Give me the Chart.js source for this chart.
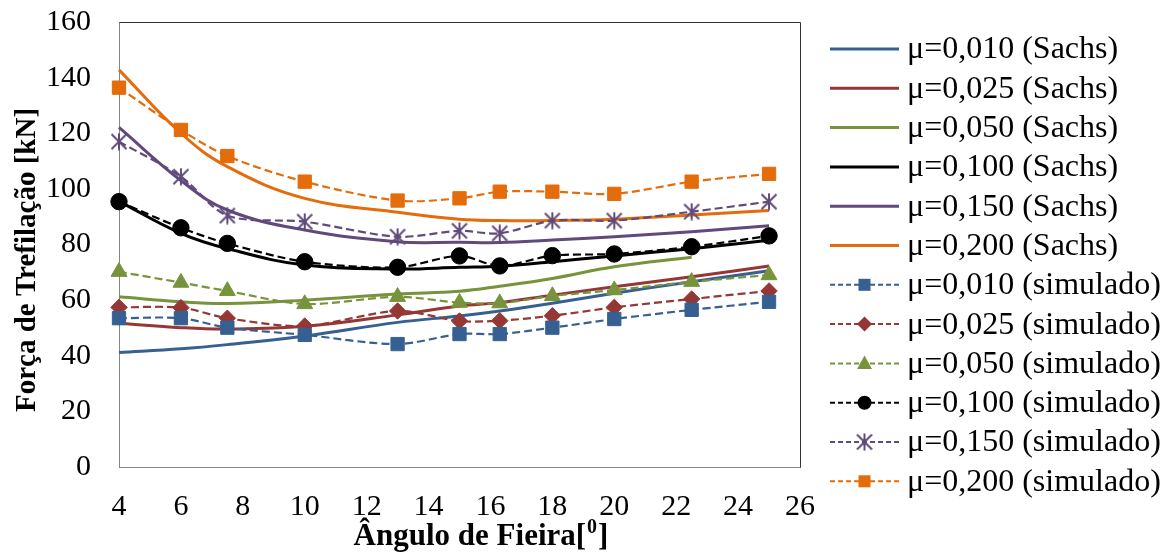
<!DOCTYPE html>
<html>
<head>
<meta charset="utf-8">
<script src="https://cdn.jsdelivr.net/npm/chart.js@4.4.1/dist/chart.umd.min.js"></script>
<style>
  html, body { margin: 0; padding: 0; background: #ffffff; }
  #wrap { width: 1168px; height: 555px; }
</style>
</head>
<body>
<div id="wrap"><canvas id="c" width="1168" height="555"></canvas></div>
<script>
// ---- data ----
const angles = [4, 6, 7.5, 10, 13, 15, 16.3, 18, 20, 22.5, 25];

const sachs010 = [41.2, 42.5, 44.0, 47.1, 52.0, 54.3, 56.1, 58.9, 62.5, 66.6, 70.6];
const sachs025 = [51.7, 50.1, 49.6, 50.6, 54.7, 57.9, 59.1, 61.8, 64.8, 68.4, 72.3];
const sachs050 = [61.2, 59.4, 58.8, 60.0, 62.2, 63.2, 65.0, 67.8, 72.0, 75.4, null];
const sachs100 = [95.5, 84.0, 78.5, 72.6, 71.2, 71.8, 72.2, 73.8, 75.9, 78.5, 81.5];
const sachs150 = [122.1, 103.0, 92.4, 85.2, 81.0, 80.8, 80.7, 81.6, 82.8, 84.6, 86.7];
const sachs200 = [142.8, 120.0, 108.0, 96.6, 91.6, 89.1, 88.6, 88.6, 89.1, 90.6, 92.2];

const sim010 = [53.5, 53.5, 50.1, 47.5, 44.2, 47.8, 47.8, 50.1, 53.2, 56.5, 59.4];
const sim025 = [57.4, 57.3, 53.5, 50.7, 56.1, 52.5, 52.6, 54.4, 57.4, 60.4, 63.3];
const sim050 = [70.2, 66.3, 63.3, 58.6, 61.2, 59.1, 58.9, 61.5, 63.6, 66.6, 69.0];
const sim100 = [95.4, 86.0, 80.4, 73.8, 71.8, 75.9, 72.3, 76.0, 76.6, 79.2, 83.1];
const sim150 = [117.0, 104.4, 90.4, 88.2, 82.8, 84.9, 84.0, 88.6, 88.6, 91.8, 95.4];
const sim200 = [136.4, 121.2, 111.8, 102.6, 95.8, 96.6, 99.0, 99.0, 98.2, 102.6, 105.4];

const sachsLabels = ['μ=0,010 (Sachs)', 'μ=0,025 (Sachs)', 'μ=0,050 (Sachs)', 'μ=0,100 (Sachs)', 'μ=0,150 (Sachs)', 'μ=0,200 (Sachs)'];
const simLabels = ['μ=0,010 (simulado)', 'μ=0,025 (simulado)', 'μ=0,050 (simulado)', 'μ=0,100 (simulado)', 'μ=0,150 (simulado)', 'μ=0,200 (simulado)'];
const xTicks = [4, 6, 8, 10, 12, 14, 16, 18, 20, 22, 24, 26];
const yTicks = [0, 20, 40, 60, 80, 100, 120, 140, 160];
const xTitle = 'Ângulo de Fieira[';
const xTitleSup = '0';
const xTitleEnd = ']';
const yTitle = 'Força de Trefilação [kN]';

// ---- styles ----
const colors = ['#376092', '#953735', '#77933C', '#000000', '#604A7B', '#E46C0A'];
const FONT = "'Liberation Serif', 'Times New Roman', serif";

function starCanvas(color) {
  const s = 18, c = document.createElement('canvas');
  c.width = s; c.height = s;
  const g = c.getContext('2d');
  g.strokeStyle = color; g.lineWidth = 2; g.lineCap = 'butt';
  const m = s / 2, r = 7.5;
  g.beginPath();
  g.moveTo(m - r, m - r); g.lineTo(m + r, m + r);
  g.moveTo(m + r, m - r); g.lineTo(m - r, m + r);
  g.moveTo(m, m - r - 1); g.lineTo(m, m + r + 1);
  g.stroke();
  return c;
}

const pointStyles = ['rect', 'rectRot', 'triangle', 'circle', starCanvas(colors[4]), 'rect'];
const pointRadii = [9.4, 8.2, 9.2, 8.2, 9, 9.4];

const toXY = arr => angles.map((a, i) => ({x: a, y: arr[i]}));

const sachsSeries = [sachs010, sachs025, sachs050, sachs100, sachs150, sachs200];
const simSeries = [sim010, sim025, sim050, sim100, sim150, sim200];

const datasets = [];
sachsSeries.forEach((s, i) => {
  datasets.push({
    label: sachsLabels[i],
    data: toXY(s),
    borderColor: colors[i],
    backgroundColor: colors[i],
    borderWidth: 3,
    pointRadius: 0,
    tension: 0.4,
    fill: false,
    clip: false,
    order: 2
  });
});
simSeries.forEach((s, i) => {
  datasets.push({
    label: simLabels[i],
    data: toXY(s),
    borderColor: colors[i],
    backgroundColor: colors[i],
    borderWidth: 2.2,
    borderDash: [8, 4],
    pointStyle: pointStyles[i],
    pointRadius: pointRadii[i],
    pointBorderWidth: 1,
    pointBackgroundColor: colors[i],
    pointBorderColor: colors[i],
    tension: 0.3,
    fill: false,
    clip: false,
    order: 1
  });
});

function drawMarker(ctx, style, x, y, color) {
  ctx.save();
  ctx.fillStyle = color; ctx.strokeStyle = color; ctx.setLineDash([]); ctx.lineWidth = 1;
  if (style instanceof HTMLCanvasElement) {
    ctx.drawImage(style, x - style.width / 2, y - style.height / 2);
  } else if (style === 'rect') {
    ctx.fillRect(x - 6, y - 6, 12, 12);
  } else if (style === 'rectRot') {
    ctx.beginPath(); ctx.moveTo(x, y - 7.5); ctx.lineTo(x + 7.5, y); ctx.lineTo(x, y + 7.5); ctx.lineTo(x - 7.5, y); ctx.closePath(); ctx.fill();
  } else if (style === 'triangle') {
    ctx.beginPath(); ctx.moveTo(x, y - 8); ctx.lineTo(x + 7.5, y + 5.5); ctx.lineTo(x - 7.5, y + 5.5); ctx.closePath(); ctx.fill();
  } else if (style === 'circle') {
    ctx.beginPath(); ctx.arc(x, y, 7, 0, Math.PI * 2); ctx.fill();
  }
  ctx.restore();
}

const decorPlugin = {
  id: 'decor',
  afterDraw(chart) {
    const ctx = chart.ctx;
    const ca = chart.chartArea;
    // plot-area frame (top & right)
    ctx.save();
    ctx.strokeStyle = '#333333'; ctx.lineWidth = 1; ctx.setLineDash([]);
    ctx.beginPath();
    ctx.moveTo(Math.round(ca.left) + 0.5, Math.round(ca.top) + 0.5);
    ctx.lineTo(Math.round(ca.right) + 0.5, Math.round(ca.top) + 0.5);
    ctx.lineTo(Math.round(ca.right) + 0.5, Math.round(ca.bottom) + 0.5);
    ctx.stroke();
    ctx.restore();

    // axis titles
    ctx.save();
    ctx.fillStyle = '#000';
    ctx.textBaseline = 'middle';
    const fMain = 'bold 31px ' + FONT, fSup = 'bold 20px ' + FONT;
    ctx.font = fMain;
    const w1 = ctx.measureText(xTitle).width, w3 = ctx.measureText(xTitleEnd).width;
    ctx.font = fSup;
    const w2 = ctx.measureText(xTitleSup).width;
    let xs = 481 - (w1 + w2 + w3 + 2) / 2;
    const yc = 537;
    ctx.textAlign = 'left';
    ctx.font = fMain; ctx.fillText(xTitle, xs, yc); xs += w1 + 1;
    ctx.font = fSup; ctx.fillText(xTitleSup, xs, yc - 9); xs += w2 + 1;
    ctx.font = fMain; ctx.fillText(xTitleEnd, xs, yc);
    ctx.translate(28, 260);
    ctx.rotate(-Math.PI / 2);
    ctx.textAlign = 'center';
    ctx.font = 'bold 29px ' + FONT;
    ctx.fillText(yTitle, 0, 0);
    ctx.restore();

    // legend
    const x0 = 830, x1 = 899, tx = 907, row0 = 49, rowH = 39.3;
    ctx.save();
    chart.data.datasets.forEach((ds, i) => {
      const y = row0 + i * rowH;
      ctx.strokeStyle = ds.borderColor;
      ctx.lineWidth = ds.borderDash ? 2 : 3;
      ctx.setLineDash(ds.borderDash ? [5, 3] : []);
      ctx.beginPath(); ctx.moveTo(x0, y); ctx.lineTo(x1, y); ctx.stroke();
      if (ds.pointStyle) drawMarker(ctx, ds.pointStyle, (x0 + x1) / 2, y, ds.borderColor);
      ctx.setLineDash([]);
      ctx.fillStyle = '#000000';
      ctx.font = '32px ' + FONT;
      ctx.textBaseline = 'middle';
      ctx.textAlign = 'left';
      ctx.fillText(ds.label, tx, y + 1);
    });
    ctx.restore();
  }
};

new Chart(document.getElementById('c'), {
  type: 'line',
  data: { datasets },
  plugins: [decorPlugin],
  options: {
    responsive: false,
    animation: false,
    devicePixelRatio: 1,
    layout: { padding: { left: 0, top: 22, right: 368, bottom: 0 } },
    plugins: { legend: { display: false }, tooltip: { enabled: false }, title: { display: false } },
    scales: {
      x: {
        type: 'linear',
        min: xTicks[0], max: xTicks[xTicks.length - 1],
        afterBuildTicks: s => { s.ticks = xTicks.map(v => ({value: v})); },
        afterFit: s => { s.height = 88; s.paddingLeft = 0; s.paddingRight = 0; },
        grid: { display: false, drawTicks: false },
        border: { display: true, color: '#868686', width: 1 },
        ticks: { color: '#000', font: { family: FONT, size: 30 }, padding: 22, maxRotation: 0, autoSkip: false },
        title: { display: false }
      },
      y: {
        type: 'linear',
        min: yTicks[0], max: yTicks[yTicks.length - 1],
        afterBuildTicks: s => { s.ticks = yTicks.map(v => ({value: v})); },
        afterFit: s => { s.width = 119; s.paddingTop = 0; s.paddingBottom = 0; },
        grid: { display: false, drawTicks: false },
        border: { display: true, color: '#868686', width: 1 },
        ticks: { color: '#000', font: { family: FONT, size: 30 }, padding: 28, autoSkip: false },
        title: { display: false }
      }
    }
  }
});
</script>
</body>
</html>
